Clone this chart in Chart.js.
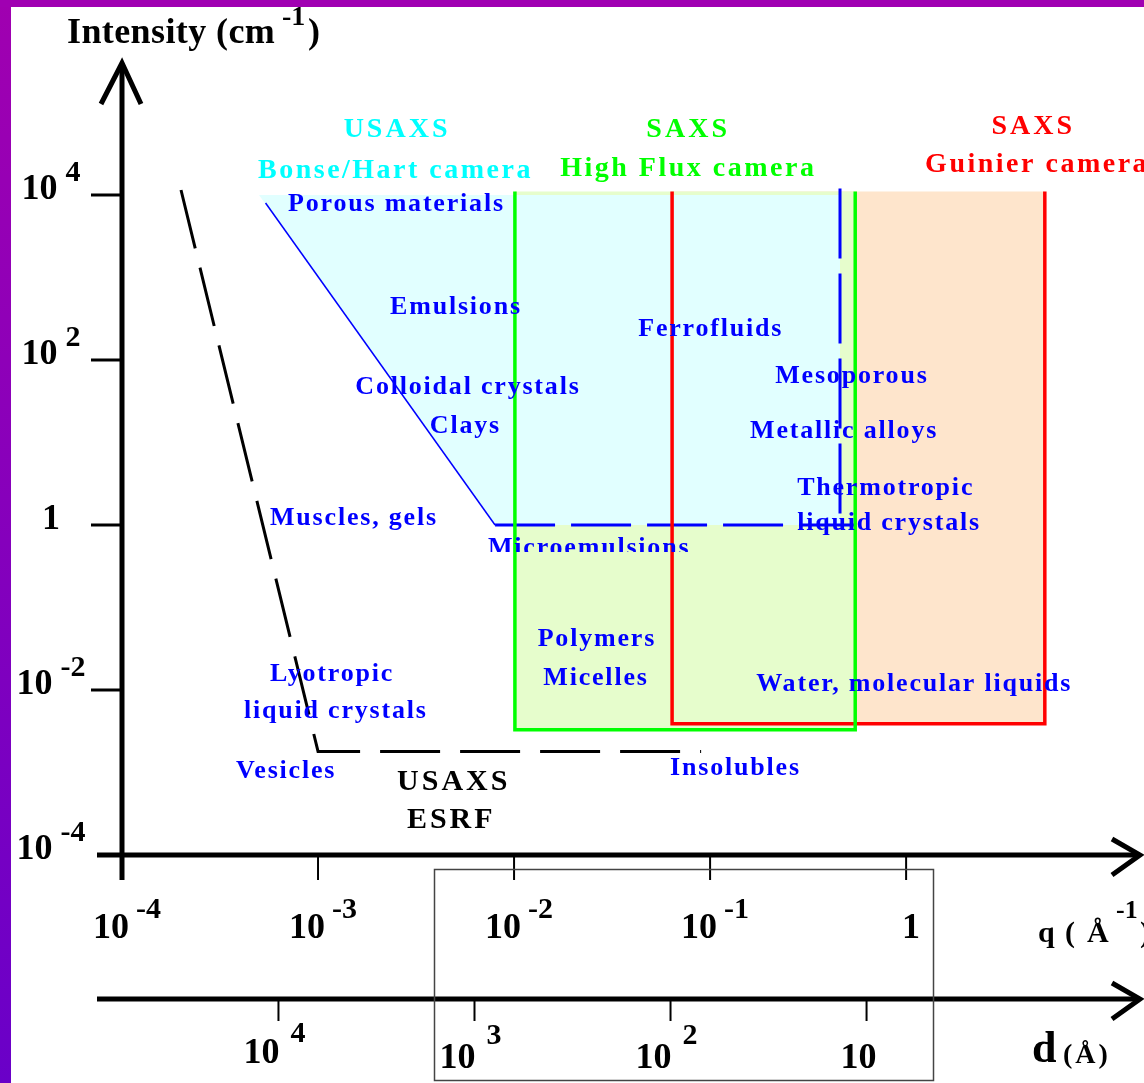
<!DOCTYPE html>
<html>
<head>
<meta charset="utf-8">
<script src="https://cdn.jsdelivr.net/npm/chart.js@4.4.1/dist/chart.umd.min.js"></script>
<style>
    html, body { margin: 0; padding: 0; background: #fff; overflow: hidden; }
    canvas { display: block; }
</style>
</head>
<body>
<canvas id="saxsChart" width="1144" height="1083"></canvas>
<script>
// axis ticks
var qTicks = [1e-4, 1e-3, 1e-2, 1e-1, 1];
var qTickBase = ['10', '10', '10', '10', '1'];
var qTickExp = ['-4', '-3', '-2', '-1', ''];
var intensityTicks = [1e4, 1e2, 1, 1e-2, 1e-4];
var intensityTickBase = ['10', '10', '1', '10', '10'];
var intensityTickExp = ['4', '2', '', '-2', '-4'];
var dTicks = [1e4, 1e3, 1e2, 10];
var dTickBase = ['10', '10', '10', '10'];
var dTickExp = ['4', '3', '2', ''];

// USAXS Bonse/Hart camera domain
var bonseQ = [5.0e-4, 8.0e-3, 0.46, 0.46];
var bonseI = [1.0e4, 1.0, 1.0, 1.0e4];
var bonseSlopeQ = [5.4e-4, 8.0e-3];
var bonseSlopeI = [8.0e3, 1.0];
var bonseFloorQ = [8.0e-3, 0.55];
var bonseFloorI = [1.0, 1.0];
var bonseEdgeQ = [0.46, 0.46];
var bonseEdgeI = [1.2e4, 1.0];

// SAXS High Flux camera domain
var highFluxQ = [0.0101, 0.0101, 0.55, 0.55];
var highFluxI = [1.1e4, 3.3e-3, 3.3e-3, 1.1e4];

// SAXS Guinier camera domain
var guinierQ = [0.064, 0.064, 5.1, 5.1];
var guinierI = [1.1e4, 3.9e-3, 3.9e-3, 1.1e4];

// USAXS ESRF limit
var esrfQ = [2.0e-4, 1.0e-3, 0.09];
var esrfI = [1.15e4, 1.8e-3, 1.8e-3];

// frame around the lower axes (q range)
var boxQ = [3.9e-3, 1.37];

// text labels: [text, q, intensity, kind]
var labels = [
    ['USAXS', 2.53e-3, 5.05e4, 'cyanC'],
    ['Bonse/Hart camera', 4.94e-4, 1.61e4, 'cyan'],
    ['SAXS', 0.0773, 5.05e4, 'greenC'],
    ['High Flux camera', 0.0172, 1.70e4, 'green'],
    ['SAXS', 4.45, 5.48e4, 'redC'],
    ['Guinier camera', 1.25, 1.9e4, 'red'],
    ['Porous materials', 7.03e-4, 6.4e3, 'blue'],
    ['Emulsions', 2.33e-3, 361, 'blue'],
    ['Ferrofluids', 0.043, 195, 'blue'],
    ['Mesoporous', 0.215, 52.6, 'blue'],
    ['Colloidal crystals', 1.55e-3, 38.7, 'blue'],
    ['Clays', 3.72e-3, 13.0, 'blue'],
    ['Metallic alloys', 0.16, 11.3, 'blue'],
    ['Thermotropic', 0.278, 2.31, 'blue'],
    ['liquid crystals', 0.278, 0.87, 'blue'],
    ['Muscles, gels', 5.69e-4, 1.0, 'blue'],
    ['Microemulsions', 7.36e-3, 0.433, 'blueCut'],
    ['Polymers', 0.0132, 0.0341, 'blue'],
    ['Micelles', 0.0141, 0.0115, 'blue'],
    ['Water, molecular liquids', 0.172, 9.7e-3, 'blue'],
    ['Lyotropic', 5.69e-4, 0.0129, 'blue'],
    ['liquid crystals', 4.19e-4, 4.58e-3, 'blue'],
    ['Vesicles', 3.82e-4, 8.57e-4, 'blue'],
    ['Insolubles', 0.0625, 9.3e-4, 'blue'],
    ['USAXS', 2.53e-3, 6.14e-4, 'black'],
    ['ESRF', 2.84e-3, 2.12e-4, 'black']
];

var SERIF = '"Liberation Serif", "Times New Roman", serif';

var labelStyles = {
    cyan: {color: '#00ffff', size: 28, spacing: 2.5, align: 'left'},
    cyanC: {color: '#00ffff', size: 28, spacing: 3, align: 'center'},
    green: {color: '#00ff00', size: 28, spacing: 2.5, align: 'left'},
    greenC: {color: '#00ff00', size: 28, spacing: 3, align: 'center'},
    red: {color: '#ff0000', size: 28, spacing: 2.5, align: 'left'},
    redC: {color: '#ff0000', size: 28, spacing: 3, align: 'center'},
    blue: {color: '#0000ff', size: 26, spacing: 1.8, align: 'left'},
    blueCut: {color: '#0000ff', size: 26, spacing: 1.8, align: 'left', cut: true},
    black: {color: '#000000', size: 30, spacing: 3, align: 'left'}
};

function pts(qs, is) {
    return qs.map(function (q, i) {
        return {x: q, y: is[i]};
    });
}

function strokeLine(ctx, coords, width) {
    ctx.lineWidth = width;
    ctx.beginPath();
    ctx.moveTo(coords[0], coords[1]);
    for (var i = 2; i < coords.length; i += 2) {
        ctx.lineTo(coords[i], coords[i + 1]);
    }
    ctx.stroke();
}

function text(ctx, s, x, y, size, spacing) {
    ctx.font = 'bold ' + size + 'px ' + SERIF;
    ctx.letterSpacing = (spacing || 0) + 'px';
    ctx.fillText(s, x, y);
    ctx.letterSpacing = '0px';
}

// "10" with a raised exponent, centred on cx
function drawPower(ctx, base, exp, cx, y, size, supSize, rise, gap) {
    ctx.textAlign = 'left';
    ctx.font = 'bold ' + size + 'px ' + SERIF;
    var w1 = ctx.measureText(base).width;
    ctx.font = 'bold ' + supSize + 'px ' + SERIF;
    var w2 = exp ? ctx.measureText(exp).width + gap : 0;
    var x = cx - (w1 + w2) / 2;
    ctx.font = 'bold ' + size + 'px ' + SERIF;
    ctx.fillText(base, x, y);
    if (exp) {
        ctx.font = 'bold ' + supSize + 'px ' + SERIF;
        ctx.fillText(exp, x + w1 + gap, y - rise);
    }
}

var framePlugin = {
    id: 'frame',
    beforeDraw: function (chart) {
        var ctx = chart.ctx;
        ctx.save();
        ctx.fillStyle = '#ffffff';
        ctx.fillRect(0, 0, chart.width, chart.height);
        var g = ctx.createLinearGradient(0, 0, 0, chart.height);
        g.addColorStop(0, '#a000b0');
        g.addColorStop(1, '#6a00c8');
        ctx.fillStyle = g;
        ctx.fillRect(0, 0, 11, chart.height);
        ctx.fillStyle = '#a000b2';
        ctx.fillRect(0, 0, chart.width, 7);
        ctx.restore();
    }
};

var axesPlugin = {
    id: 'axes',
    afterDatasetsDraw: function (chart) {
        var ctx = chart.ctx;
        var xs = chart.scales.x;
        var ys = chart.scales.y;
        var a = chart.chartArea;
        var dAxisY = a.bottom + 144;
        var i, px, py;

        ctx.save();
        ctx.strokeStyle = '#000';
        ctx.fillStyle = '#000';
        ctx.lineJoin = 'miter';
        ctx.textAlign = 'left';

        // intensity axis with arrow
        strokeLine(ctx, [a.left, a.top + 2, a.left, a.bottom + 25], 5);
        strokeLine(ctx, [a.left - 21, a.top + 41, a.left, a.top, a.left + 19, a.top + 41], 5);
        for (i = 0; i < intensityTicks.length; i++) {
            py = ys.getPixelForValue(intensityTicks[i]);
            if (intensityTicks[i] > 1e-4) {
                strokeLine(ctx, [a.left - 31, py, a.left, py], 3);
            }
            drawPower(ctx, intensityTickBase[i], intensityTickExp[i], a.left - 71, py + 4, 36, 30, 18, 8);
        }

        // q axis with arrow
        strokeLine(ctx, [a.left - 25, a.bottom, a.right, a.bottom], 5);
        strokeLine(ctx, [a.right - 28, a.bottom - 16, a.right, a.bottom, a.right - 28, a.bottom + 20], 5);
        for (i = 0; i < qTicks.length; i++) {
            px = xs.getPixelForValue(qTicks[i]);
            if (i > 0) {
                strokeLine(ctx, [px, a.bottom, px, a.bottom + 25], 2);
            }
            drawPower(ctx, qTickBase[i], qTickExp[i], px + 5, a.bottom + 83, 36, 30, 20, 7);
        }
        text(ctx, 'q', a.left + 916, a.bottom + 87, 30);
        text(ctx, '(', a.left + 943, a.bottom + 87, 30);
        text(ctx, '\u00c5', a.left + 965, a.bottom + 87, 30);
        text(ctx, '-1', a.left + 994, a.bottom + 63, 26);
        text(ctx, ')', a.left + 1018, a.bottom + 87, 30);

        // d axis with arrow
        strokeLine(ctx, [a.left - 25, dAxisY, a.right, dAxisY], 5);
        strokeLine(ctx, [a.right - 28, dAxisY - 16, a.right, dAxisY, a.right - 28, dAxisY + 20], 5);
        for (i = 0; i < dTicks.length; i++) {
            px = xs.getPixelForValue(2 * Math.PI / dTicks[i]);
            strokeLine(ctx, [px, dAxisY, px, dAxisY + 22], 2);
            ctx.font = 'bold 36px ' + SERIF;
            if (dTickExp[i]) {
                // exponent sits just right of the tick, mantissa just left of it
                ctx.textAlign = 'right';
                ctx.fillText(dTickBase[i], px + 1, dAxisY + (i === 0 ? 64 : 69));
                ctx.textAlign = 'left';
                ctx.font = 'bold 30px ' + SERIF;
                ctx.fillText(dTickExp[i], px + 12, dAxisY + (i === 0 ? 43 : 45));
            } else {
                ctx.textAlign = 'center';
                ctx.fillText(dTickBase[i], px - 8, dAxisY + 69);
                ctx.textAlign = 'left';
            }
        }
        text(ctx, 'd', a.left + 910, dAxisY + 63, 44);
        text(ctx, '(\u00c5)', a.left + 941, dAxisY + 64, 28, 3);

        // frame around the lower axes
        var bx0 = Math.round(xs.getPixelForValue(boxQ[0])) + 0.5;
        var bx1 = Math.round(xs.getPixelForValue(boxQ[1])) + 0.5;
        ctx.strokeStyle = '#444';
        ctx.lineWidth = 1.5;
        ctx.strokeRect(bx0, a.bottom + 14.5, bx1 - bx0, 211);

        // intensity title
        ctx.fillStyle = '#000';
        text(ctx, 'Intensity (cm', a.left - 55, a.top - 20, 36, 0.4);
        text(ctx, '-1', a.left + 160, a.top - 38, 28);
        text(ctx, ')', a.left + 186, a.top - 20, 36);

        // region and sample labels
        labels.forEach(function (l) {
            var st = labelStyles[l[3]];
            var x = xs.getPixelForValue(l[1]);
            var y = ys.getPixelForValue(l[2]);
            ctx.save();
            if (st.cut) {
                ctx.beginPath();
                ctx.rect(0, 0, chart.width, y - 3);
                ctx.clip();
            }
            ctx.fillStyle = st.color;
            ctx.textAlign = st.align;
            text(ctx, l[0], x, y, st.size, st.spacing);
            ctx.restore();
        });

        ctx.restore();
    }
};

new Chart(document.getElementById('saxsChart').getContext('2d'), {
    type: 'scatter',
    data: {
        datasets: [
            {
                label: 'Guinier camera',
                data: pts(guinierQ, guinierI),
                showLine: true,
                fill: 'shape',
                backgroundColor: '#fee5cc',
                borderColor: 'rgba(0,0,0,0)',
                borderWidth: 1,
                order: 10
            },
            {
                label: 'High Flux camera',
                data: pts(highFluxQ, highFluxI),
                showLine: true,
                fill: 'shape',
                backgroundColor: '#e6fdcc',
                borderColor: 'rgba(0,0,0,0)',
                borderWidth: 1,
                order: 9
            },
            {
                label: 'Bonse/Hart camera',
                data: pts(bonseQ, bonseI),
                showLine: true,
                fill: 'shape',
                backgroundColor: '#e1ffff',
                borderColor: 'rgba(0,0,0,0)',
                borderWidth: 1,
                order: 8
            },
            {
                label: 'Bonse/Hart slope',
                data: pts(bonseSlopeQ, bonseSlopeI),
                showLine: true,
                fill: false,
                backgroundColor: 'rgba(0,0,0,0)',
                borderColor: '#0000ff',
                borderWidth: 1.5,
                order: 5
            },
            {
                label: 'Bonse/Hart floor',
                data: pts(bonseFloorQ, bonseFloorI),
                showLine: true,
                fill: false,
                backgroundColor: 'rgba(0,0,0,0)',
                borderColor: '#0000ff',
                borderWidth: 3,
                borderDash: [60, 16],
                order: 5
            },
            {
                label: 'Bonse/Hart edge',
                data: pts(bonseEdgeQ, bonseEdgeI),
                showLine: true,
                fill: false,
                backgroundColor: 'rgba(0,0,0,0)',
                borderColor: '#0000ff',
                borderWidth: 3,
                borderDash: [70, 15],
                order: 5
            },
            {
                label: 'Guinier limits',
                data: pts(guinierQ, guinierI),
                showLine: true,
                fill: false,
                backgroundColor: 'rgba(0,0,0,0)',
                borderColor: '#ff0000',
                borderWidth: 3.5,
                order: 4
            },
            {
                label: 'High Flux limits',
                data: pts(highFluxQ, highFluxI),
                showLine: true,
                fill: false,
                backgroundColor: 'rgba(0,0,0,0)',
                borderColor: '#00ff00',
                borderWidth: 3.5,
                order: 3
            },
            {
                label: 'USAXS ESRF',
                data: pts(esrfQ, esrfI),
                showLine: true,
                fill: false,
                backgroundColor: 'rgba(0,0,0,0)',
                borderColor: '#000000',
                borderWidth: 3,
                borderDash: [60, 20],
                order: 2
            }
        ]
    },
    options: {
        responsive: false,
        animation: false,
        devicePixelRatio: 1,
        layout: {
            padding: {left: 122, top: 63, right: 4, bottom: 228}
        },
        elements: {
            point: {radius: 0, hoverRadius: 0},
            line: {tension: 0, borderCapStyle: 'butt'}
        },
        scales: {
            x: {type: 'logarithmic', min: 1e-4, max: 15.6, bounds: 'data', display: false},
            y: {type: 'logarithmic', min: 1e-4, max: 3.98e5, bounds: 'data', display: false}
        },
        plugins: {
            legend: {display: false},
            tooltip: {enabled: false}
        }
    },
    plugins: [framePlugin, axesPlugin]
});
</script>
</body>
</html>
